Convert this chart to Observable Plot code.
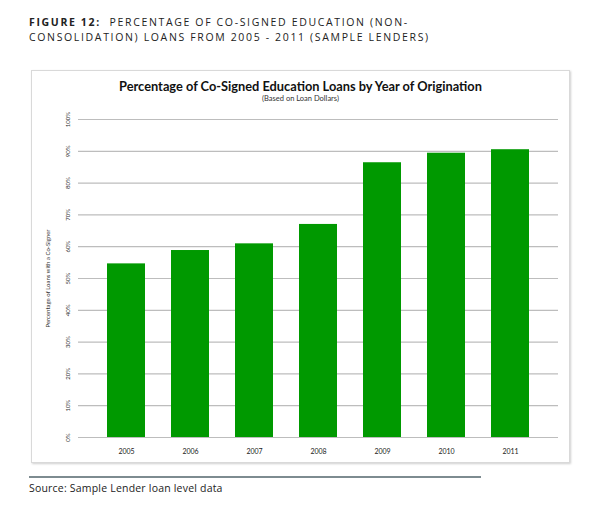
<!DOCTYPE html>
<html>
<head>
<meta charset="utf-8">
<script src="https://cdn.jsdelivr.net/npm/d3@7"></script>
<script src="https://cdn.jsdelivr.net/npm/@observablehq/plot@0.6"></script>
<style>
  html, body { margin: 0; padding: 0; background: #fff; }
  #page { position: relative; width: 600px; height: 509px; overflow: hidden; font-family: "Open Sans", sans-serif; }
  #fig { position: absolute; left: 29px; top: 15px; font-family: "Open Sans", sans-serif; font-size: 10.5px; line-height: 14.5px; color: #222; letter-spacing: 1.65px; white-space: nowrap; }
  #box { position: absolute; left: 31px; top: 70px; width: 537px; height: 391px; border: 1px solid #d9d9d9; box-shadow: 1px 1px 2px #cfcfcf; }
  #ctitle { position: absolute; left: 31px; width: 539px; top: 80px; text-align: center; font-family: Lato, sans-serif; font-weight: bold; font-size: 12.8px; line-height: 13px; color: #111; }
  #csub { position: absolute; left: 31px; width: 539px; top: 94.5px; text-align: center; font-family: Lato, sans-serif; font-size: 7.5px; line-height: 8px; color: #333; }
  #chart { position: absolute; left: 31px; top: 100px; }
  #rule { position: absolute; left: 29px; top: 476px; width: 452px; height: 2px; background: #7d8b90; }
  #source { position: absolute; left: 29px; top: 482px; font-family: "Open Sans", sans-serif; font-size: 10.5px; line-height: 12px; letter-spacing: 0.2px; color: #222; }
</style>
</head>
<body>
<div id="page">
  <div id="fig"><b>FIGURE 12:</b>&nbsp; PERCENTAGE OF CO-SIGNED EDUCATION (NON-<br>CONSOLIDATION) LOANS FROM 2005 - 2011 (SAMPLE LENDERS)</div>
  <div id="box"></div>
  <div id="ctitle">Percentage of Co-Signed Education Loans by Year of Origination</div>
  <div id="csub">(Based on Loan Dollars)</div>
  <div id="chart"></div>
  <div id="rule"></div>
  <div id="source">Source: Sample Lender loan level data</div>
</div>
<script>
const years = ["2005", "2006", "2007", "2008", "2009", "2010", "2011"];
const shares = [54.6, 58.8, 60.9, 67.0, 86.4, 89.4, 90.5];
const yTicks = [0, 10, 20, 30, 40, 50, 60, 70, 80, 90, 100];

const data = years.map((y, i) => ({year: y, share: shares[i]}));

const chart = Plot.plot({
  width: 539,
  height: 365,
  marginLeft: 47,
  marginRight: 12,
  marginTop: 19,
  marginBottom: 28,
  style: {fontFamily: "Lato, sans-serif", background: "transparent"},
  x: {domain: years, padding: 0.4, label: null},
  y: {domain: [0, 100], label: null},
  marks: [
    Plot.gridY(yTicks, {stroke: "#bdbdbd", strokeOpacity: 1, strokeWidth: 1.2}),
    Plot.barY(data, {x: "year", y: "share", fill: "#009900"}),
    Plot.axisY(yTicks, {
      tickFormat: d => d + "%",
      tickSize: 0,
      tickPadding: 9,
      tickRotate: -90,
      fontSize: 6,
      fill: "#333",
      label: "Percentage of Loans with a Co-Signer",
      labelAnchor: "center",
      labelArrow: "none",
      labelOffset: 33
    }),
    Plot.axisX({tickSize: 0, tickPadding: 12, fontSize: 7, fill: "#222", label: null})
  ]
});
document.getElementById("chart").appendChild(chart);
</script>
</body>
</html>
